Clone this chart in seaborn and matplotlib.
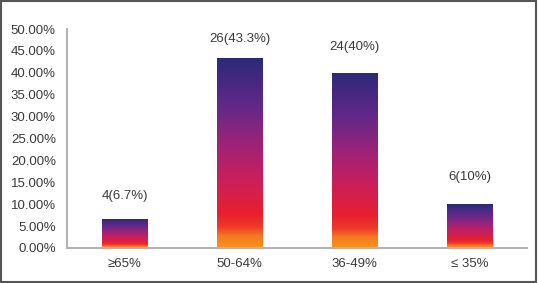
import numpy as np
import pandas as pd
import seaborn as sns
from matplotlib import pyplot as plt
from matplotlib.colors import LinearSegmentedColormap
from matplotlib.patches import Rectangle
from matplotlib.ticker import FuncFormatter

# dati
categorie = ["≥65%", "50-64%", "36-49%", "≤ 35%"]
percentuali = [6.7, 43.3, 40.0, 10.0]
etichette = ["4(6.7%)", "26(43.3%)", "24(40%)", "6(10%)"]

df = pd.DataFrame({"categoria": categorie, "percentuale": percentuali})

sns.set_style("white")
plt.rcParams["font.family"] = ["Liberation Sans", "DejaVu Sans"]

fig = plt.figure(figsize=(5.38, 2.83), dpi=100)
ax = fig.add_axes([67 / 538, 35 / 283, 460 / 538, 219 / 283])

sns.barplot(x="categoria", y="percentuale", data=df, width=0.4, ax=ax, color="white")

# gradiente arancio -> rosso -> magenta -> viola -> blu scuro
cmap = LinearSegmentedColormap.from_list("grad", [
    (0.0, "#f7941d"),
    (0.06, "#f47a20"),
    (0.11, "#ee3a26"),
    (0.18, "#e8202e"),
    (0.38, "#c61f5e"),
    (0.56, "#9a2378"),
    (0.75, "#622889"),
    (1.0, "#2c2a78"),
])
grad = np.linspace(0, 1, 256).reshape(-1, 1)
for p in ax.patches:
    x0, y0 = p.get_x(), p.get_y()
    w, h = p.get_width(), p.get_height()
    p.set_facecolor("none")
    p.set_edgecolor("none")
    im = ax.imshow(grad, cmap=cmap, origin="lower", aspect="auto",
                   extent=[x0, x0 + w, y0, y0 + h], zorder=2)
    im.set_clip_path(p)

# etichette sopra le barre
offsets = [23, 19, 26, 27]
for i, (v, t) in enumerate(zip(percentuali, etichette)):
    ax.annotate(t, (i, v), xytext=(0, offsets[i]), textcoords="offset pixels",
                ha="center", va="center", fontsize=9.5, color="#3a3a3a")

ax.set_xlim(-0.5, 3.5)
ax.set_ylim(0, 50)
ax.set_yticks(np.arange(0, 50.1, 5))
ax.yaxis.set_major_formatter(FuncFormatter(lambda v, _: f"{v:.2f}%"))
ax.set_xlabel("")
ax.set_ylabel("")
ax.tick_params(axis="both", length=0, labelsize=9.5, colors="#3a3a3a")
ax.tick_params(axis="y", pad=8)
ax.tick_params(axis="x", pad=7)

for s in ["top", "right"]:
    ax.spines[s].set_visible(False)
for s in ["left", "bottom"]:
    ax.spines[s].set_color("#b3b3b3")
    ax.spines[s].set_linewidth(1.5)

# cornice esterna
fig.patches.append(Rectangle((0.002, 0.003), 0.995, 0.993, transform=fig.transFigure,
                             fill=False, edgecolor="#555555", linewidth=1.5))

fig.savefig("out.png", dpi=100)
